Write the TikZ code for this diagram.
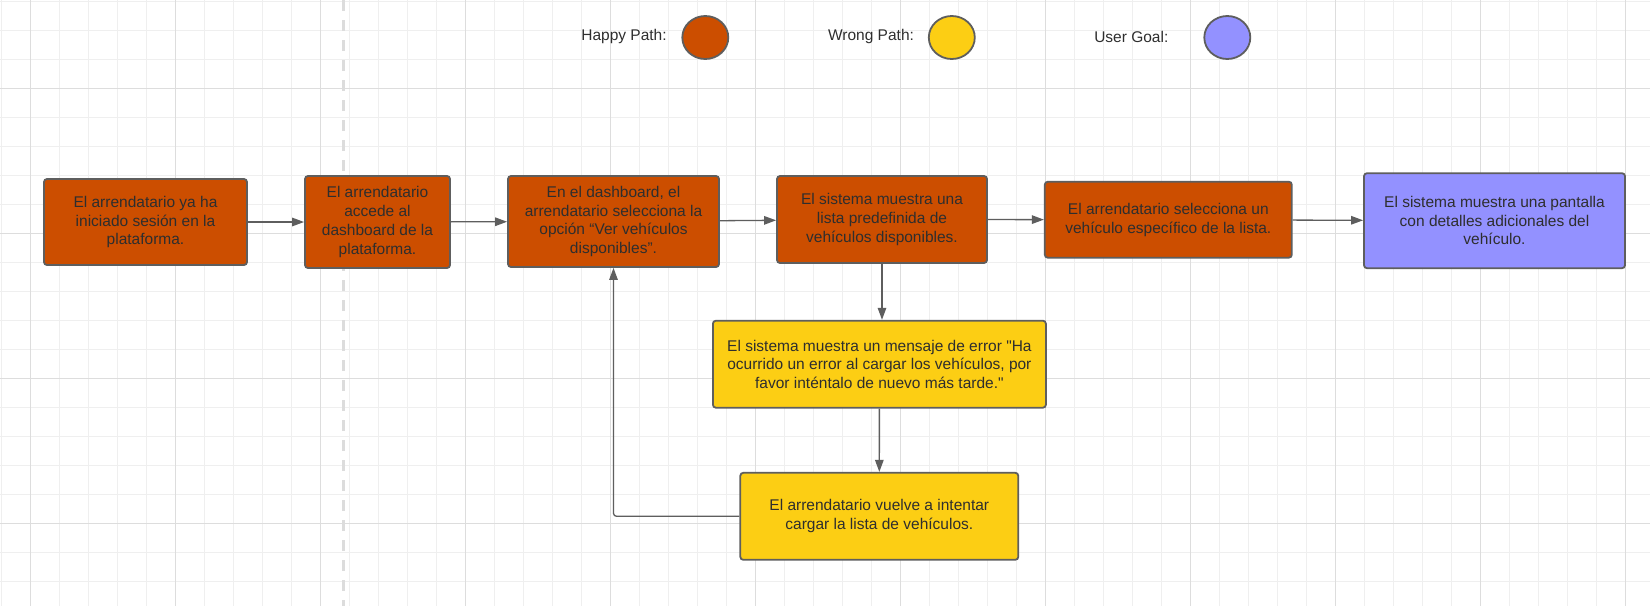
\documentclass[tikz,border=0pt]{standalone}
\usepackage{fontspec}
\setmainfont{Liberation Sans}
\newfontfamily\plainfont{Liberation Sans}
\newcommand{\dq}{{\plainfont"}}
\usetikzlibrary{shapes,arrows.meta}
\definecolor{happy}{HTML}{CC4E00}
\definecolor{wrong}{HTML}{FCCE14}
\definecolor{goal}{HTML}{9391FF}
\definecolor{edge}{HTML}{5E5E5E}
\definecolor{ink}{HTML}{2E2E2E}
\definecolor{gridminor}{HTML}{EFEFEF}
\definecolor{gridmajor}{HTML}{DDDDDD}
\definecolor{divider}{HTML}{DCDCDC}

\begin{document}
\begin{tikzpicture}[x=1pt,y=-1pt]
      \tikzstyle{card}=[rectangle,draw=edge,line width=1.8pt,rounded corners=3pt,inner sep=0pt,align=center,text=ink,font=\fontsize{15.5}{18.7}\selectfont]
      \tikzstyle{happybox}=[card,fill=happy]
      \tikzstyle{wrongbox}=[card,fill=wrong]
      \tikzstyle{goalbox}=[card,fill=goal]
      \tikzstyle{legendtxt}=[text=ink,inner sep=0pt,font=\fontsize{15.5}{18.7}\selectfont]
      \tikzstyle{legenddot}=[ellipse,draw=edge,line width=1.8pt,inner sep=0pt,minimum width=46pt,minimum height=43pt]
      \tikzstyle{flow}=[draw=edge,line width=1.3pt,->,>={Triangle[length=12pt,width=8.5pt]}]
      \useasboundingbox (0,0) rectangle (1650,606);
      \fill[white] (0,0) rectangle (1650,606);
      % background grid
      \foreach \x in {1,30,...,1650} \draw[gridminor,line width=1pt] (\x,0) -- (\x,606);
      \foreach \y in {1.3,30.3,...,606} \draw[gridminor,line width=1pt] (0,\y) -- (1650,\y);
      \foreach \x in {30,175,...,1650} \draw[gridmajor,line width=1pt] (\x,0) -- (\x,606);
      \foreach \y in {88.3,233.3,...,606} \draw[gridmajor,line width=1pt] (0,\y) -- (1650,\y);
      \draw[divider,line width=3pt,dash pattern=on 11pt off 9pt] (343,0) -- (343,606);
      % legend
      \node[legendtxt] (thappy) at (624,36.7) {Happy Path:};
      \node[legenddot,fill=happy] (dhappy) at (705.3,37.5) {};
      \node[legendtxt] (twrong) at (871,36.7) {Wrong Path:};
      \node[legenddot,fill=wrong] (dwrong) at (951.8,37.5) {};
      \node[legendtxt] (tgoal) at (1131.3,36.7) {User Goal:};
      \node[legenddot,fill=goal] (dgoal) at (1227.3,37.5) {};
      % flow
      \node[happybox,minimum width=203pt,minimum height=86pt] (login) at (145.5,222) {El arrendatario ya ha\\iniciado sesión en la\\plataforma.};
      \node[happybox,minimum width=145pt,minimum height=92pt] (dash) at (377.5,222) {El arrendatario\\accede al\\dashboard de la\\plataforma.};
      \node[happybox,minimum width=211pt,minimum height=91pt] (option) at (613.5,221.5) {En el dashboard, el\\arrendatario selecciona la\\opción “Ver vehículos\\disponibles”.};
      \node[happybox,minimum width=210pt,minimum height=87pt] (list) at (882,219.5) {El sistema muestra una\\lista predefinida de\\vehículos disponibles.};
      \node[happybox,minimum width=247pt,minimum height=76pt] (pick) at (1168.3,219.7) {El arrendatario selecciona un\\vehículo específico de la lista.};
      \node[goalbox,minimum width=261pt,minimum height=95pt] (detail) at (1494.5,220.7) {El sistema muestra una pantalla\\con detalles adicionales del\\vehículo.};
      \node[wrongbox,minimum width=333pt,minimum height=87pt] (error) at (879.4,364.2) {El sistema muestra un mensaje de error \dq Ha\\ocurrido un error al cargar los vehículos, por\\favor inténtalo de nuevo más tarde.\dq};
      \node[wrongbox,minimum width=278pt,minimum height=87pt] (retry) at (879.3,516.3) {El arrendatario vuelve a intentar\\cargar la lista de vehículos.};
      \draw[flow] (login) -- (dash);
      \draw[flow] (dash) -- (option);
      \draw[flow] (option) -- (list);
      \draw[flow] (list) -- (pick);
      \draw[flow] (pick) -- (detail);
      \draw[flow] (list.south) -- (error.north -| list.south);
      \draw[flow] (error) -- (retry);
      \draw[flow,rounded corners=3pt] (retry.west) -| (option.south);
\end{tikzpicture}
\end{document}
